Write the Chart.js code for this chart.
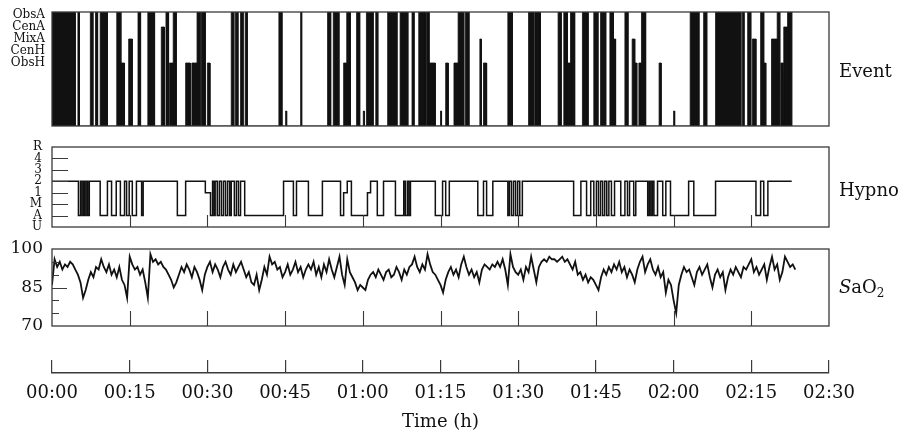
<!DOCTYPE html>
<html>
<head>
<meta charset="utf-8">
<script src="https://cdn.jsdelivr.net/npm/chart.js@4.4.1/dist/chart.umd.min.js"></script>
<style>
  body { margin: 0; background: #fff; width: 903px; height: 431px; position: relative; overflow: hidden; font-family: "DejaVu Serif", serif; }
  canvas { position: absolute; left: 0; }
  .ttl { position: absolute; left: 839px; font-size: 18px; line-height: 18px; color: #111; white-space: nowrap; }
  .ttl sub { font-size: 12px; vertical-align: -4px; line-height: 0; }
</style>
</head>
<body>
<canvas id="ev" width="903" height="140" style="top:0px"></canvas>
<canvas id="hy" width="903" height="110" style="top:130px"></canvas>
<canvas id="sa" width="903" height="100" style="top:240px"></canvas>
<canvas id="tm" width="903" height="96" style="top:340px"></canvas>
<div class="ttl" style="top:62px">Event</div>
<div class="ttl" style="top:181px">Hypno</div>
<div class="ttl" style="top:278px"><i>S</i>aO<sub>2</sub></div>
<script>
// time axis (minutes from start)
const timeTicks = [0, 15, 30, 45, 60, 75, 90, 105, 120, 135, 150];
const timeLabels = ['00:00', '00:15', '00:30', '00:45', '01:00', '01:15', '01:30', '01:45', '02:00', '02:15', '02:30'];

// respiratory events (minutes)
const eventNames = ['ObsH', 'CenH', 'MixA', 'CenA', 'ObsA'];
const eventStart = [0.0, 5.0, 7.4, 8.4, 9.3, 12.5, 13.3, 14.8, 16.6, 18.5,
  21.1, 22.0, 22.7, 23.4, 25.8, 27.0, 28.0, 28.8, 30.0, 34.6,
  35.4, 36.4, 37.3, 43.8, 45.1, 48.0, 53.2, 54.3, 56.3, 56.9,
  58.8, 60.1, 60.7, 62.5, 64.8, 67.2, 69.5, 70.8, 72.3, 72.8,
  75.0, 76.0, 77.6, 78.4, 79.8, 82.6, 83.3, 88.0, 92.0, 93.2,
  97.7, 98.8, 99.5, 100.1, 102.4, 104.6, 105.9, 107.7, 108.4, 110.6,
  112.0, 112.5, 113.3, 113.8, 117.2, 120.0, 123.2, 125.8, 128.1, 133.3,
  134.3, 135.2, 136.8, 137.4, 138.9, 140.0, 140.7, 141.3, 142.0];
const eventEnd = [4.5, 5.3, 7.9, 8.8, 10.7, 13.3, 14.0, 15.5, 17.1, 19.8,
  21.7, 22.5, 23.4, 24.0, 26.7, 28.0, 28.6, 29.6, 30.5, 35.1,
  35.9, 36.9, 37.7, 44.4, 45.3, 48.2, 53.8, 55.4, 56.9, 57.6,
  59.4, 60.3, 62.0, 62.9, 66.6, 68.7, 69.9, 72.1, 72.8, 74.0,
  75.2, 76.5, 78.4, 79.5, 80.5, 82.9, 83.9, 88.9, 93.0, 94.3,
  98.3, 99.5, 100.1, 100.9, 103.5, 105.4, 106.9, 108.4, 108.8, 111.2,
  112.5, 112.9, 113.8, 114.6, 117.6, 120.2, 124.9, 126.4, 133.0, 133.6,
  134.9, 135.9, 137.4, 137.8, 140.0, 140.5, 141.2, 142.0, 142.8];
const eventType = ['ObsA', 'ObsA', 'ObsA', 'ObsA', 'ObsA', 'ObsA', 'ObsH', 'MixA', 'ObsA', 'ObsA',
  'CenA', 'ObsA', 'ObsH', 'ObsA', 'ObsH', 'ObsH', 'ObsA', 'ObsA', 'ObsH', 'ObsA',
  'ObsA', 'ObsA', 'ObsA', 'ObsA', 'Aro', 'ObsA', 'ObsA', 'ObsA', 'ObsH', 'ObsA',
  'ObsA', 'Aro', 'ObsA', 'ObsA', 'ObsA', 'ObsA', 'ObsA', 'ObsA', 'ObsA', 'ObsH',
  'Aro', 'ObsH', 'ObsH', 'ObsA', 'ObsA', 'MixA', 'ObsH', 'ObsA', 'ObsA', 'ObsA',
  'ObsA', 'ObsA', 'ObsH', 'ObsA', 'ObsA', 'ObsA', 'ObsA', 'ObsA', 'MixA', 'ObsA',
  'MixA', 'ObsH', 'ObsH', 'ObsA', 'ObsH', 'Aro', 'ObsA', 'ObsA', 'ObsA', 'ObsA',
  'ObsA', 'MixA', 'ObsA', 'ObsH', 'MixA', 'ObsA', 'ObsH', 'CenA', 'ObsA'];
const eventLevel = { ObsA: 9.25, CenA: 8, MixA: 7, CenH: 6, ObsH: 5, Aro: 1 };

// hypnogram: stage starting at each time
const hypnoNames = ['U', 'A', 'M', '1', '2', '3', '4', 'R'];
const hypnoTime = [0, 5.1, 5.5, 5.8, 6.1, 6.3, 6.6, 6.9, 7.2, 9.3,
  10.7, 11.5, 12.4, 13.2, 14.0, 14.4, 14.9, 15.5, 16.3, 17.3,
  17.6, 24.2, 25.8, 29.6, 30.6, 31.0, 31.3, 31.5, 31.9, 32.3,
  32.7, 33.1, 33.5, 33.9, 34.3, 34.6, 35.2, 35.6, 36.0, 36.4,
  37.2, 44.7, 46.6, 47.2, 49.5, 52.2, 55.7, 56.3, 57.0, 57.8,
  60.9, 61.5, 62.8, 64.0, 66.3, 67.9, 68.2, 68.6, 68.9, 69.2,
  74.0, 75.4, 76.0, 76.7, 82.2, 83.3, 83.9, 85.1, 88.0, 88.3,
  88.7, 89.1, 89.5, 89.9, 90.3, 90.8, 100.7, 102.1, 103.2, 104.0,
  104.6, 105.1, 105.5, 105.9, 106.3, 106.7, 107.1, 107.5, 108.0, 108.6,
  109.8, 110.6, 111.1, 111.5, 112.3, 112.7, 115.0, 115.3, 115.6, 115.9,
  116.2, 116.9, 117.9, 118.5, 119.4, 122.9, 123.9, 128.1, 135.9, 136.8,
  137.4, 138.2, 142.8];
const hypnoStage = ['2', 'A', '2', 'A', '2', 'A', '2', 'A', '2', 'A',
  '2', 'A', '2', 'A', '2', 'A', '2', 'A', '2', 'A',
  '2', 'A', '2', '1', 'A', '2', 'A', '2', 'A', '2',
  'A', '2', 'A', '2', 'A', '2', 'A', '2', 'A', '2',
  'A', '2', 'A', '2', 'A', '2', 'A', '1', '2', 'A',
  '1', '2', 'A', '2', 'A', '2', 'A', '2', 'A', '2',
  'A', '2', 'A', '2', 'A', '2', 'A', '2', 'A', '2',
  'A', '2', 'A', '2', 'A', '2', 'A', '2', 'A', '2',
  'A', '2', 'A', '2', 'A', '2', 'A', '2', 'A', '2',
  'A', '2', 'A', '2', 'A', '2', 'A', '2', 'A', '2',
  'A', '2', 'A', '2', 'A', '2', 'A', '2', 'A', '2',
  'A', '2', '2'];

// SaO2 (%), one sample every half minute from 00:00
const sao2Step = 0.5;
const sao2 = [
  86, 96, 93, 95, 92, 94, 93, 95, 94, 92, 90, 87, 81, 84, 88, 91, 89, 93, 92, 96,
  93, 91, 94, 90, 92, 89, 93, 88, 86, 81, 97, 94, 92, 93, 90, 92, 87, 81, 98, 95,
  96, 94, 95, 93, 92, 90, 88, 85, 87, 90, 93, 91, 94, 92, 89, 93, 91, 88, 84, 90,
  93, 95, 91, 94, 92, 89, 93, 95, 92, 90, 94, 91, 93, 95, 92, 89, 91, 87, 86, 90,
  84, 88, 93, 90, 97, 94, 95, 92, 93, 89, 91, 94, 90, 92, 95, 91, 93, 89, 92, 94,
  92, 95, 90, 93, 89, 94, 91, 96, 92, 89, 93, 97, 90, 86, 96, 91, 89, 87, 84, 86,
  85, 84, 88, 90, 91, 89, 92, 90, 88, 91, 92, 89, 90, 93, 91, 88, 92, 90, 93, 94,
  97, 93, 91, 94, 92, 98, 94, 91, 90, 88, 86, 83, 88, 91, 93, 90, 92, 89, 94, 97,
  93, 90, 92, 89, 91, 87, 92, 94, 93, 92, 94, 93, 95, 93, 96, 92, 86, 98, 93, 91,
  90, 92, 88, 93, 91, 97, 92, 87, 93, 95, 96, 95, 97, 96, 96, 95, 96, 97, 95, 96,
  94, 92, 95, 90, 91, 88, 90, 87, 89, 88, 86, 84, 89, 92, 90, 93, 91, 94, 92, 95,
  91, 93, 89, 92, 90, 87, 92, 95, 97, 91, 94, 96, 92, 90, 93, 89, 91, 83, 88, 86,
  80, 75, 86, 90, 93, 91, 92, 89, 86, 91, 93, 90, 92, 94, 89, 85, 90, 92, 89, 91,
  84, 89, 92, 90, 93, 91, 89, 93, 92, 94, 96, 91, 93, 90, 92, 94, 88, 93, 97, 92,
  94, 88, 91, 97, 95, 93, 94, 92];

const INK = '#111';
const FRAME = '#3a3a3a';
const serif = '"DejaVu Serif", serif';
const innerTimeTicks = timeTicks.slice(1, -1);

// frame around each panel plus the small inner ticks
const framePlugin = {
  id: 'frame',
  afterDatasetsDraw(chart, args, opts) {
    const { ctx, chartArea: a, scales } = chart;
    ctx.save();
    ctx.strokeStyle = FRAME;
    ctx.lineWidth = 1.3;
    ctx.strokeRect(a.left, a.top, a.right - a.left, a.bottom - a.top);
    ctx.lineWidth = 1.1;
    ctx.beginPath();
    (opts.xTicks || []).forEach(v => {
      const px = Math.round(scales.x.getPixelForValue(v)) + 0.5;
      ctx.moveTo(px, a.bottom);
      ctx.lineTo(px, a.bottom - opts.xLen);
    });
    (opts.yTicks || []).forEach(v => {
      const py = Math.round(scales.y.getPixelForValue(v)) + 0.5;
      const len = (opts.yLong || []).includes(v) ? opts.yLongLen : opts.yLen;
      ctx.moveTo(a.left, py);
      ctx.lineTo(a.left + len, py);
    });
    ctx.stroke();
    ctx.restore();
  }
};

const hiddenX = { type: 'linear', min: 0, max: 150, display: false };

// left axis: fixed 52px wide, labels `gap` px from the frame
function leftAxis(min, max, values, label, size, gap) {
  return {
    type: 'linear', min: min, max: max,
    afterFit(s) { s.width = 52; },
    afterBuildTicks(s) { s.ticks = values.map(v => ({ value: v })); },
    grid: { display: false, tickLength: gap },
    border: { display: false },
    ticks: {
      autoSkip: false, padding: 0, color: INK,
      font: { family: serif, size: size, lineHeight: 1 },
      callback: v => label(v)
    }
  };
}

const baseOpts = {
  responsive: false,
  animation: false,
  events: [],
};

// event panel: filled step outline built from the event list
const evPoints = [{ x: 0, y: -0.25 }];
eventStart.forEach((s, i) => {
  const h = eventLevel[eventType[i]];
  evPoints.push({ x: s, y: -0.25 }, { x: s, y: h }, { x: eventEnd[i], y: h }, { x: eventEnd[i], y: -0.25 });
});

new Chart(document.getElementById('ev'), {
  type: 'line',
  data: { datasets: [{ data: evPoints, borderColor: INK, backgroundColor: INK, borderWidth: 0.8, pointRadius: 0, fill: 'start' }] },
  options: Object.assign({}, baseOpts, {
    layout: { padding: { top: 12, bottom: 14, left: 0, right: 74 } },
    scales: {
      x: hiddenX,
      y: leftAxis(-0.25, 9.25, [5, 6, 7, 8, 9], v => eventNames[v - 5], 12, 7)
    },
    plugins: { legend: { display: false }, tooltip: { enabled: false }, frame: {} }
  }),
  plugins: [framePlugin]
});

new Chart(document.getElementById('hy'), {
  type: 'line',
  data: { datasets: [{ data: hypnoTime.map((t, i) => ({ x: t, y: hypnoNames.indexOf(hypnoStage[i]) })), stepped: true, borderColor: INK, borderWidth: 1.5, pointRadius: 0, fill: false }] },
  options: Object.assign({}, baseOpts, {
    layout: { padding: { top: 17, bottom: 13, left: 0, right: 74 } },
    scales: {
      x: hiddenX,
      y: leftAxis(0, 7, [0, 1, 2, 3, 4, 5, 6, 7], v => hypnoNames[v], 12, 10)
    },
    plugins: { legend: { display: false }, tooltip: { enabled: false },
      frame: { xTicks: innerTimeTicks, xLen: 12, yTicks: [1, 2, 3, 4, 5, 6], yLen: 16 } }
  }),
  plugins: [framePlugin]
});

new Chart(document.getElementById('sa'), {
  type: 'line',
  data: { datasets: [{ data: sao2.map((v, i) => ({ x: i * sao2Step, y: v })), borderColor: INK, borderWidth: 1.8, pointRadius: 0, fill: false }] },
  options: Object.assign({}, baseOpts, {
    layout: { padding: { top: 9, bottom: 14, left: 0, right: 74 } },
    scales: {
      x: hiddenX,
      y: leftAxis(70, 100, [70, 85, 100], v => String(v), 17, 9)
    },
    plugins: { legend: { display: false }, tooltip: { enabled: false },
      frame: { xTicks: innerTimeTicks, xLen: 15, yTicks: [75, 80, 85, 90, 95], yLen: 7, yLong: [85], yLongLen: 15 } }
  }),
  plugins: [framePlugin]
});

// shared time axis with upward ticks
new Chart(document.getElementById('tm'), {
  type: 'line',
  data: { datasets: [] },
  options: Object.assign({}, baseOpts, {
    layout: { padding: { top: 20, bottom: 0, left: 52, right: 74 } },
    scales: {
      x: {
        type: 'linear', min: 0, max: 150,
        afterFit(s) { s.height = 63; },
        afterBuildTicks(s) { s.ticks = timeTicks.map(v => ({ value: v })); },
        grid: { drawOnChartArea: true, drawTicks: false, color: FRAME, lineWidth: 1.2 },
        border: { display: true, color: FRAME, width: 1.4 },
        ticks: { autoSkip: false, maxRotation: 0, padding: 10, color: INK, font: { family: serif, size: 18 },
          callback: (v, i) => timeLabels[i] },
        title: { display: true, text: 'Time (h)', color: INK, font: { family: serif, size: 18 }, padding: { top: 0, bottom: 3 } }
      },
      y: { display: false, min: 0, max: 1 }
    },
    plugins: { legend: { display: false }, tooltip: { enabled: false } }
  })
});
</script>
</body>
</html>
